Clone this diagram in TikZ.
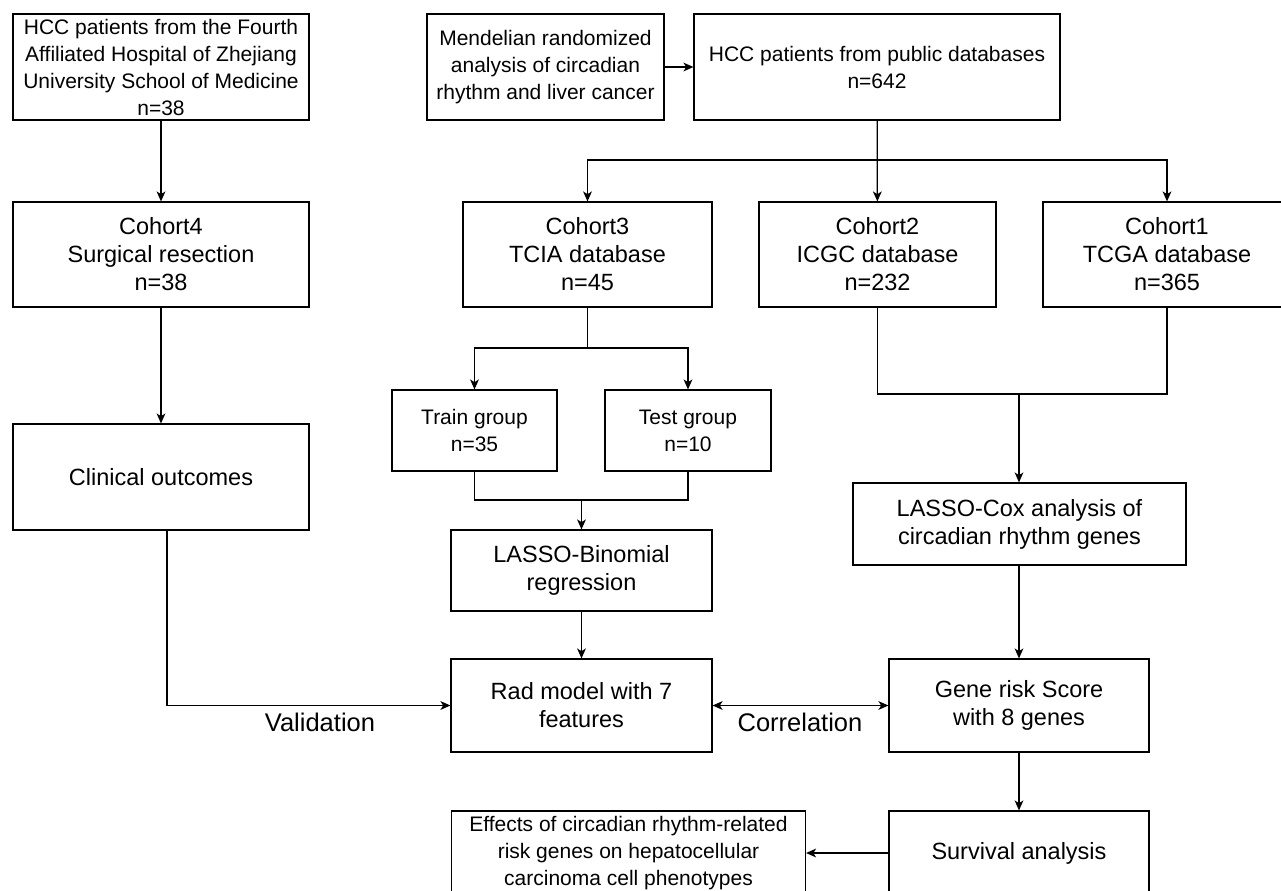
\documentclass[tikz,border=0pt]{standalone}
\usepackage{fontspec}
\setmainfont{Liberation Sans}
\usetikzlibrary{arrows.meta}

\newcommand{\smalltxt}{\fontsize{10.5}{13.5}\selectfont}
\newcommand{\bigtxt}{\fontsize{11.75}{14}\selectfont}
\newcommand{\labeltxt}{\fontsize{12.75}{15}\selectfont}

\begin{document}
\begin{tikzpicture}[x=0.5pt,y=-0.5pt,
    box/.style={draw, line width=0.6pt, align=center, inner sep=0pt, font=\bigtxt},
    smallbox/.style={box, font=\smalltxt},
    link/.style={line width=0.6pt},
    >={Stealth[length=5pt,width=4.4pt,inset=1.4pt]}]
    \clip (0,0) rectangle (1281,890);
    % top row
    \node[smallbox, minimum width=148pt, minimum height=53pt] (hosp) at (161,67) {HCC patients from the Fourth\\Affiliated Hospital of Zhejiang\\University School of Medicine\\n=38};
    \node[smallbox, minimum width=118.5pt, minimum height=53pt] (mend) at (545.5,67) {Mendelian randomized\\analysis of circadian\\rhythm and liver cancer};
    \node[smallbox, minimum width=183pt, minimum height=53pt] (pub) at (877,67) {HCC patients from public databases\\n=642};
    % cohorts
    \node[box, minimum width=148pt, minimum height=52.5pt] (c4) at (161,254.5) {Cohort4\\Surgical resection\\n=38};
    \node[box, minimum width=124.5pt, minimum height=52.5pt] (c3) at (587.5,254.5) {Cohort3\\TCIA database\\n=45};
    \node[box, minimum width=118.5pt, minimum height=52.5pt] (c2) at (877.5,254.5) {Cohort2\\ICGC database\\n=232};
    \node[box, minimum width=124pt, minimum height=52.5pt] (c1) at (1167,254.5) {Cohort1\\TCGA database\\n=365};
    % middle
    \node[box, minimum width=148pt, minimum height=53pt] (clin) at (161,477) {Clinical outcomes};
    \node[smallbox, minimum width=82.5pt, minimum height=40.5pt] (train) at (474.5,430.5) {Train group\\n=35};
    \node[smallbox, minimum width=83pt, minimum height=40.5pt] (test) at (688,430.5) {Test group\\n=10};
    \node[box, minimum width=130.5pt, minimum height=40.5pt] (lbin) at (581.5,570.5) {LASSO-Binomial\\regression};
    \node[box, minimum width=166.5pt, minimum height=41pt] (lcox) at (1019.5,524) {LASSO-Cox analysis of\\circadian rhythm genes};
    \node[box, minimum width=130.5pt, minimum height=46.5pt] (rad) at (581.5,705.5) {Rad model with 7\\features};
    \node[box, minimum width=130pt, minimum height=46.5pt] (gene) at (1019,705.5) {Gene risk Score\\with 8 genes};
    % bottom
    \node[box, minimum width=130pt, minimum height=42pt] (surv) at (1019,853) {Survival analysis};
    \node[smallbox, minimum width=177pt, minimum height=42pt] (eff) at (628.5,853) {Effects of circadian rhythm-related\\risk genes on hepatocellular\\carcinoma cell phenotypes};
    \node[font=\labeltxt] (valid) at (320,722) {Validation};
    \node[font=\labeltxt] (corr) at (800,722) {Correlation};

    \coordinate (fork) at (877,160);
    \coordinate (split) at (587.5,348);
    \coordinate (merge) at (581.5,500);
    \coordinate (join) at (1019,394);

    \draw[link,->] (hosp) -- (c4);
    \draw[link,->] (mend) -- (pub);
    \draw[link,->] (pub) -- (c2);
    \draw[link,->] (fork) -| (c3.north);
    \draw[link,->] (fork) -| (c1.north);
    \draw[link,->] (c4) -- (clin);
    \draw[link] (c3) -- (split);
    \draw[link,->] (split) -| (train.north);
    \draw[link,->] (split) -| (test.north);
    \draw[link] (train.south) |- (merge) -| (test.south);
    \draw[link,->] (merge) -- (lbin);
    \draw[link,->] (lbin) -- (rad);
    \draw[link] (c2.south) |- (join) -| (c1.south);
    \draw[link,->] (join) -- (join |- lcox.north);
    \draw[link,->] (join |- lcox.south) -- (gene);
    \draw[link,->] ([xshift=3pt]clin.south) |- (rad.west);
    \draw[link,<->] (rad) -- (gene);
    \draw[link,->] (gene) -- (surv);
    \draw[link,->] (surv) -- (eff);
\end{tikzpicture}
\end{document}
